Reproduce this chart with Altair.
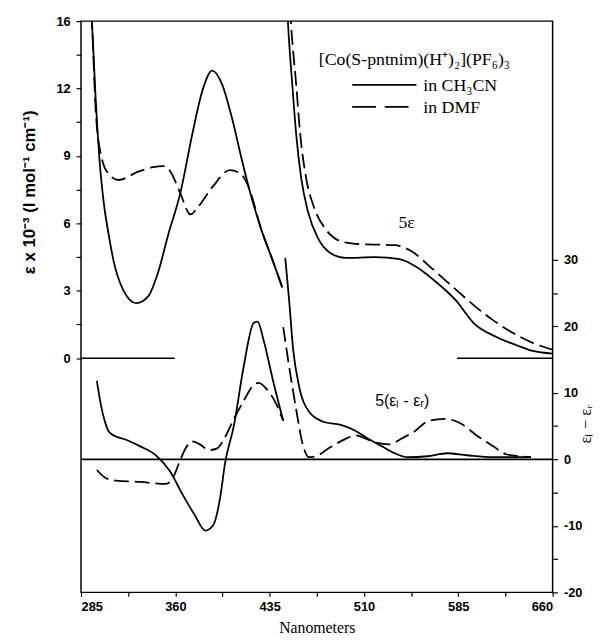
import altair as alt
import pandas as pd

# ---- absorption (left axis, e x 10^-3) ----
eps_ch3cn_nm = [292, 293.6, 296.8, 299.9, 303, 307, 310.9, 318.7, 329, 338.4, 346.2, 354, 364.2, 373.6,
                381.5, 389.3, 397.1, 405, 412.8, 418.4, 428.5, 437.1, 445]
eps_ch3cn_val = [16.2, 15.0, 11.4, 8.7, 6.96, 5.5, 4.33, 3.02, 2.45, 2.75, 3.8, 5.43, 7.4, 10.0,
                 11.9, 12.8, 12.2, 10.7, 8.85, 7.6, 5.7, 4.4, 3.15]
eps_dmf_nm = [292, 293.6, 296.8, 301.5, 307, 314.8, 330.5, 342.3, 350.1, 356.4, 363.5, 372.1, 377.6,
              389.3, 403.5, 412.9, 418.4, 428.5, 437.1, 445]
eps_dmf_val = [16.2, 15.0, 10.9, 8.9, 8.2, 7.93, 8.3, 8.5, 8.55, 8.28, 7.4, 6.4, 6.7,
               7.6, 8.37, 8.15, 7.6, 5.7, 4.4, 3.15]
eps_zero_left_nm = [285, 359.5]
eps_zero_right_nm = [584, 660]

# ---- 5e (right axis units) ----
eps5_ch3cn_nm = [449, 449.7, 452.9, 456, 460, 465.4, 473.3, 483.5, 495.2, 518.8, 538.4, 550.2, 565.9,
                 583.1, 597.2, 615.3, 631, 644.3, 660]
eps5_ch3cn_val = [67.7, 65.2, 56.6, 49.1, 42.4, 37.3, 33.3, 31.0, 30.3, 30.4, 30.1, 29.1, 26.9,
                  23.9, 20.5, 18.4, 17.2, 16.3, 15.9]
eps5_dmf_nm = [451.3, 452.1, 456, 459.2, 463.9, 470.1, 479.6, 491.3, 503.1, 534.5, 547.8, 563.5,
               581.5, 597.2, 612.9, 628.6, 644.3, 660]
eps5_dmf_val = [67.7, 65.2, 56.6, 49.1, 42.4, 38.0, 34.6, 32.8, 32.4, 32.2, 31.3, 28.8,
                25.8, 23.2, 20.9, 19.0, 17.5, 16.5]

# ---- CD, 5(el - er) (right axis) ----
cd_ch3cn_a_nm = [297.6, 300.7, 303.8, 307, 313.2, 318.7, 332.1, 344.6, 355.6, 365.8, 375.2, 383.8,
                 390.1, 395.6, 399.5, 406.6, 414.4, 422.3, 425.4, 430.1, 438, 445.8]
cd_ch3cn_a_val = [11.8, 8.3, 5.8, 4.2, 3.4, 3.1, 1.96, 0.6, -1.75, -5.3, -8.3, -10.7,
                  -9.9, -5.8, -0.6, 5.1, 14.0, 20.5, 20.7, 18.0, 11.6, 5.8]
cd_ch3cn_b_nm = [447.4, 450.5, 453.7, 458.4, 466.2, 477.2, 492.9, 503.1, 513.3, 524.3, 534.5, 544.7,
                 560.4, 576.1, 591.7, 612.9, 642.7]
cd_ch3cn_b_val = [30.3, 23.9, 16.5, 11.0, 7.2, 5.7, 5.1, 4.3, 3.1, 1.96, 0.92, 0.33,
                  0.47, 0.92, 0.62, 0.33, 0.33]
cd_dmf_a_nm = [297.6, 304.6, 312.5, 332.1, 352.5, 358, 363.5, 368.2, 373.7, 379.1, 387, 393.3, 398.8,
               406.6, 414.4, 422.3, 426.2, 432.5, 440.3, 445.8]
cd_dmf_a_val = [-1.6, -2.8, -3.2, -3.4, -3.7, -2.8, -0.3, 1.66, 2.7, 2.3, 1.4, 1.66, 3.1,
                6.1, 8.8, 11.2, 11.5, 10.6, 8.3, 5.8]
cd_dmf_b_nm = [445.8, 450.5, 456, 461.5, 466.2, 471.7, 481.9, 492.9, 503.1, 511, 518.8, 530.5, 540,
               550.2, 560.4, 573.7, 587, 599.6, 612.9, 623.1, 634.1, 642.7]
cd_dmf_b_val = [19.9, 13.95, 7.6, 2.1, 0.33, 0.47, 1.66, 2.85, 3.6, 3.15, 2.55, 2.26, 3.15,
                4.2, 5.7, 6.1, 5.4, 3.6, 1.96, 0.77, 0.47, 0.33]
cd_zero_nm = [285, 660]

# ---- annotations ----
legend_nm = [500.7, 551.7]
legend_solid_val = 56.3
legend_dashed_val = 53.0
title_text = "[Co(S-pntnim)(H⁺)₂](PF₆)₃"
legend_labels = ["in CH₃CN", "in DMF"]


def frame(nm, val, seg):
    if not isinstance(val, list):
        val = [val] * len(nm)
    return pd.DataFrame({"nm": nm, "val": val, "seg": seg})


left_solid = frame(eps_ch3cn_nm, eps_ch3cn_val, "eps")
left_dashed = frame(eps_dmf_nm, eps_dmf_val, "eps")
left_zero = pd.concat([frame(eps_zero_left_nm, 0, "z1"), frame(eps_zero_right_nm, 0, "z2")])

right_solid = pd.concat([frame(cd_ch3cn_a_nm, cd_ch3cn_a_val, "a"),
                         frame(cd_ch3cn_b_nm, cd_ch3cn_b_val, "b"),
                         frame(eps5_ch3cn_nm, eps5_ch3cn_val, "c"),
                         frame(cd_zero_nm, 0, "z"),
                         frame(legend_nm, legend_solid_val, "leg")])
right_dashed = pd.concat([frame(cd_dmf_a_nm, cd_dmf_a_val, "a"),
                          frame(cd_dmf_b_nm, cd_dmf_b_val, "b"),
                          frame(eps5_dmf_nm, eps5_dmf_val, "c")])
legend_dashed = frame(legend_nm, legend_dashed_val, "leg")

title_df = pd.DataFrame({"nm": [474.1], "val": [60.0], "text": [title_text]})
legend_df = pd.DataFrame({"nm": [557.2, 557.2], "val": [56.1, 52.8], "text": legend_labels})
label5e_df = pd.DataFrame({"nm": [543.9], "val": [35.5], "text": ["5ε"]})
labelcd_df = pd.DataFrame({"nm": [540.4], "val": [8.8], "text": ["5(εₗ - εᵣ)"]})

SANS = "Liberation Sans"
SERIF = "Liberation Serif"

x_axis = alt.Axis(
    values=[285 + 37.5 * i for i in range(11)],
    labelExpr="(datum.value - 285) % 75 == 0 ? '' + datum.value : ''",
    domain=False, grid=False, tickSize=4, tickColor="black", tickWidth=1.2,
    labelFont=SANS, labelFontSize=13, labelFontWeight="bold", labelColor="black", labelPadding=4,
    title="Nanometers", titleFont=SERIF, titleFontSize=16, titleFontWeight="normal", titleColor="black",
    titleX=239, titleY=36, titleBaseline="middle", titleAlign="center")
X = alt.X("nm:Q", scale=alt.Scale(domain=[285, 660], nice=False, zero=False), axis=x_axis)

left_axis = alt.Axis(
    orient="left", values=[1.5 * i for i in range(11)],
    labelExpr="datum.value == 15 ? '16' : (datum.value % 3 == 0 ? '' + datum.value : '')",
    domain=False, grid=False, tickSize=5, tickColor="black", tickWidth=1.2,
    labelFont=SANS, labelFontSize=13, labelFontWeight="bold", labelColor="black", labelPadding=6,
    title="ε x 10⁻³ (l mol⁻¹ cm⁻¹)", titleFont=SANS, titleFontSize=17, titleFontWeight="bold",
    titleColor="black", titleX=-52, titleY=173, titleAngle=270, titleBaseline="middle", titleAlign="center")
YL = alt.Y("val:Q", scale=alt.Scale(domain=[-10.42, 15], nice=False, zero=False), axis=left_axis)

right_axis = alt.Axis(
    orient="right", values=[-20, -15, -10, -5, 0, 5, 10, 20, 25, 30],
    labelExpr="datum.value % 10 == 0 ? '' + datum.value : ''",
    domain=False, grid=False, tickSize=5, tickColor="black", tickWidth=1.2,
    labelFont=SANS, labelFontSize=13, labelFontWeight="bold", labelColor="black", labelPadding=6,
    title="εₗ − εᵣ", titleFont=SERIF, titleFontSize=17, titleFontWeight="normal",
    titleColor="black", titleX=33, titleY=408, titleAngle=270, titleBaseline="middle", titleAlign="center")
YR = alt.Y("val:Q", scale=alt.Scale(domain=[-20, 65.9], nice=False, zero=False), axis=right_axis)

DASH = [15, 6]


def lines(df, y, dash=None, sw=1.8):
    kw = dict(color="black", strokeWidth=sw, interpolate="monotone", clip=True)
    if dash:
        kw["strokeDash"] = dash
    return alt.Chart(df).mark_line(**kw).encode(x=X, y=y, detail="seg:N", order="nm:Q")


left_layer = alt.layer(
    lines(left_solid, YL),
    lines(left_dashed, YL, DASH),
    lines(left_zero, YL, sw=1.6),
)

right_layer = alt.layer(
    lines(right_solid, YR),
    lines(right_dashed, YR, DASH),
    lines(legend_dashed, YR, [24, 9]),
    alt.Chart(title_df).mark_text(font=SERIF, fontSize=18, align="left", baseline="middle",
                                  color="black").encode(x=X, y=YR, text="text:N"),
    alt.Chart(legend_df).mark_text(font=SERIF, fontSize=18, align="left", baseline="middle",
                                   color="black").encode(x=X, y=YR, text="text:N"),
    alt.Chart(label5e_df).mark_text(font=SERIF, fontSize=18, align="center", baseline="middle",
                                    color="black").encode(x=X, y=YR, text="text:N"),
    alt.Chart(labelcd_df).mark_text(font=SANS, fontSize=16, align="center", baseline="middle",
                                    color="black").encode(x=X, y=YR, text="text:N"),
)

chart = alt.layer(left_layer, right_layer).resolve_scale(y="independent").properties(
    width=478, height=579,
    autosize=alt.AutoSizeParams(type="none"),
    padding={"left": 74, "top": 9, "right": 46, "bottom": 46},
    background="white",
).configure_view(stroke="black", strokeWidth=1.5)

chart.save("out.html", embed_options={"renderer": "svg", "actions": False})
